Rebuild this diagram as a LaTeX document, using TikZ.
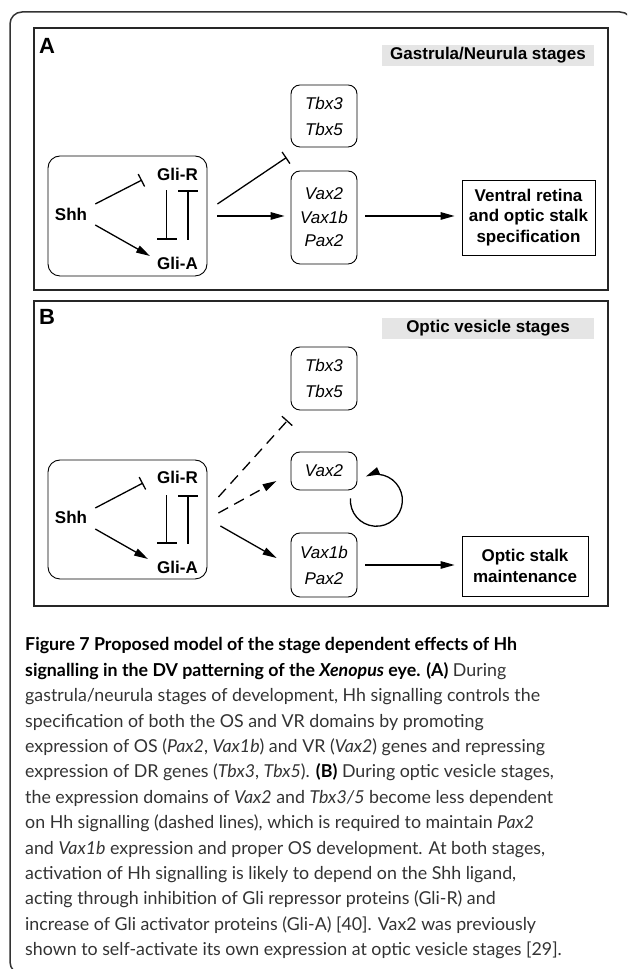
\documentclass[tikz,border=0pt]{standalone}
\usepackage{fontspec}
\setmainfont{Liberation Sans}
\newfontfamily\capfont{Lato}
\usetikzlibrary{arrows.meta}

\def\lw{1.3pt}
\def\capstep{25.4}

\begin{document}
\begin{tikzpicture}[x=1pt,y=1pt,
  lbl/.style={font=\fontsize{17}{20}\selectfont\bfseries,inner sep=0pt},
  gene/.style={draw,rounded corners=9pt,line width=.9pt,minimum width=66pt,inner sep=0pt,align=center},
  endbox/.style={draw,line width=.9pt,inner sep=0pt,align=center,font=\fontsize{17}{20.5}\selectfont\bfseries},
  stage/.style={fill=black!10,minimum width=212pt,minimum height=21pt,inner sep=0pt,font=\fontsize{17}{20}\selectfont\bfseries},
  grp/.style={draw,rounded corners=12pt,line width=.9pt,minimum width=159pt,minimum height=120pt},
  panel/.style={draw=black!85,line width=1.2pt},
  act/.style={line width=\lw,-{Triangle[length=14pt,width=7.5pt]}},
  inh/.style={line width=\lw,-{Bar[width=14pt,line width=\lw]}},
  tbar/.style={line width=\lw,-{Bar[width=20pt,line width=\lw]}},
  dsh/.style={dash pattern=on 11pt off 7pt},
  captxt/.style={anchor=base west,inner sep=0pt,font=\capfont\fontsize{17.8}{20}\selectfont,text=black!80}]
  \useasboundingbox (0,0) rectangle (627,969);
  \clip (0,0) rectangle (627,969);

  % outer frame
  \draw[black!80,line width=1.5pt,rounded corners=12pt] (40,-5) -- (10,-5) -- (10,957) -- (632,957) -- (632,900);

  % panel A
  \draw[panel] (34,941) rectangle (608,679);
  \node[lbl,font=\fontsize{22}{22}\selectfont\bfseries] (labA) at (47,923) {A};
  \node[stage] (stgA) at (488,913.5) {Gastrula/Neurula stages};

  \node[grp] (grpA) at (127.5,753) {};
  \node[lbl] (ShhA) at (71,755) {Shh};
  \node[lbl] (GliRA) at (177.5,795) {Gli-R};
  \node[lbl] (GliAA) at (177.5,706) {Gli-A};

  \node[gene,minimum height=62pt,font=\fontsize{17}{26}\selectfont\itshape] (TbxA) at (324,853) {Tbx3\\Tbx5};
  \node[gene,minimum height=93pt,font=\fontsize{17}{23.5}\selectfont\itshape] (VaxA) at (324,751.5) {Vax2\\Vax1b\\Pax2};
  \node[endbox,minimum width=133pt,minimum height=75pt] (VentA) at (528.5,751.5) {Ventral retina\\and optic stalk\\specification};

  \draw[inh] ([shift={(8,10)}]ShhA.east) -- ([shift={(-15,-6)}]GliRA.west);
  \draw[act] ([shift={(8,-11)}]ShhA.east) -- ([shift={(-7,7)}]GliAA.west);
  \draw[tbar] ([shift={(-11,-10)}]GliRA.south) -- ([shift={(-11,17)}]GliAA.north);
  \draw[tbar] ([shift={(10.5,17)}]GliAA.north) -- ([shift={(10.5,-10)}]GliRA.south);
  \draw[inh] ([shift={(10,12)}]grpA.east) -- ([shift={(-4,-10)}]TbxA.south west);
  \draw[act] ([shift={(10,0)}]grpA.east) -- ([shift={(-6,1.5)}]VaxA.west);
  \draw[act] ([shift={(8,1.5)}]VaxA.east) -- ([shift={(-7,1.5)}]VentA.west);

  % panel B
  \draw[panel] (34,668) rectangle (608,363);
  \node[lbl,font=\fontsize{22}{22}\selectfont\bfseries] (labB) at (47,652) {B};
  \node[stage] (stgB) at (488,640.5) {Optic vesicle stages};

  \node[grp,minimum height=119pt] (grpB) at (127.5,449.5) {};
  \node[lbl] (ShhB) at (71,452) {Shh};
  \node[lbl] (GliRB) at (177.5,492) {Gli-R};
  \node[lbl] (GliAB) at (177.5,402) {Gli-A};

  \node[gene,minimum height=63pt,font=\fontsize{17}{26}\selectfont\itshape] (TbxB) at (324,590.5) {Tbx3\\Tbx5};
  \node[gene,minimum height=38pt,font=\fontsize{17}{20}\selectfont\itshape] (VaxB2) at (324,498) {Vax2};
  \node[gene,minimum height=64pt,font=\fontsize{17}{26}\selectfont\itshape] (VaxB1) at (324,404) {Vax1b\\Pax2};
  \node[endbox,minimum width=126pt,minimum height=60pt] (OptB) at (525,403) {Optic stalk\\maintenance};

  \draw[inh] ([shift={(8,9)}]ShhB.east) -- ([shift={(-14,-6)}]GliRB.west);
  \draw[act] ([shift={(8,-12)}]ShhB.east) -- ([shift={(-9,8)}]GliAB.west);
  \draw[tbar] ([shift={(-11,-12)}]GliRB.south) -- ([shift={(-11,17)}]GliAB.north);
  \draw[tbar] ([shift={(10.5,17)}]GliAB.north) -- ([shift={(10.5,-12)}]GliRB.south);
  \draw[inh,dsh] ([shift={(11,22.5)}]grpB.east) -- ([shift={(-3,-10)}]TbxB.south west);
  \draw[act,dsh] ([shift={(11,6.5)}]grpB.east) -- ([shift={(-14,-10)}]VaxB2.west);
  \draw[act] ([shift={(13,-6.5)}]grpB.east) -- ([shift={(-14,7)}]VaxB1.west);
  \draw[act] ([shift={(-7,-8)}]VaxB2.south east) arc[start angle=176,end angle=474,radius=26];
  \draw[act] ([shift={(8,0)}]VaxB1.east) -- ([shift={(-7,1)}]OptB.west);

  % caption
  \foreach \txt [count=\i] in {
    {\textcolor{black}{\bfseries Figure 7 Proposed model of the stage dependent effects of Hh}},
    {\textcolor{black}{\bfseries signalling in the DV patterning of the \textit{Xenopus} eye. (A)} During},
    {gastrula/neurula stages of development, Hh signalling controls the},
    {specification of both the OS and VR domains by promoting},
    {expression of OS (\textit{Pax2}, \textit{Vax1b}) and VR (\textit{Vax2}) genes and repressing},
    {expression of DR genes (\textit{Tbx3}, \textit{Tbx5}). \textcolor{black}{\bfseries (B)} During optic vesicle stages,},
    {the expression domains of \textit{Vax2} and \textit{Tbx3/5} become less dependent},
    {on Hh signalling (dashed lines), which is required to maintain \textit{Pax2}},
    {and \textit{Vax1b} expression and proper OS development. At both stages,},
    {activation of Hh signalling is likely to depend on the Shh ligand,},
    {acting through inhibition of Gli repressor proteins (Gli-R) and},
    {increase of Gli activator proteins (Gli-A) [40]. Vax2 was previously},
    {shown to self-activate its own expression at optic vesicle stages [29].}}
    \node[captxt] (cap\i) at (25,{318-\capstep*(\i-1)}) {\txt};
\end{tikzpicture}
\end{document}
